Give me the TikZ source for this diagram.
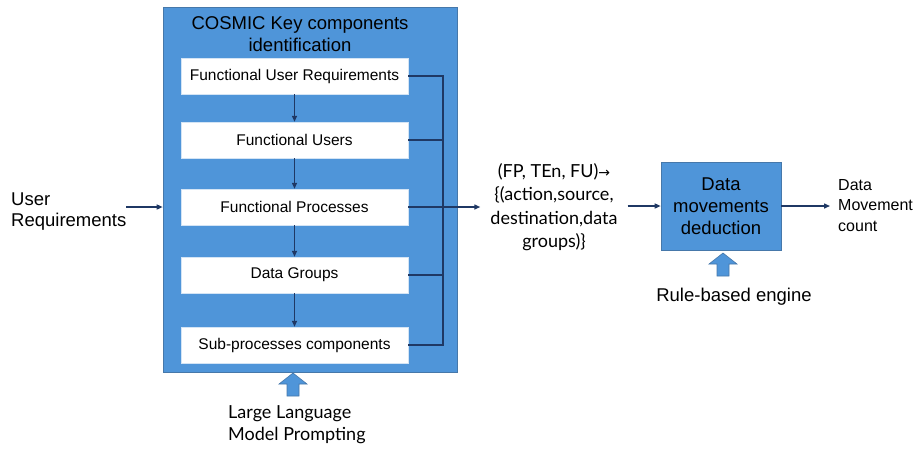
\documentclass[tikz,border=0pt]{standalone}
\usepackage{fontspec}
\setmainfont{Liberation Sans}
\newfontfamily\aptos{Lato}
\newfontfamily\symb{DejaVu Sans}
\usetikzlibrary{arrows.meta}
\definecolor{boxblue}{RGB}{79,149,217}
\definecolor{boxedge}{RGB}{70,120,170}
\definecolor{navy}{RGB}{31,56,100}

\tikzset{
  panel/.style={draw=boxedge, line width=0.6pt, fill=boxblue, inner sep=0pt},
  comp/.style={draw=boxblue!25, line width=0.4pt, fill=white, minimum width=227pt,
    minimum height=36pt, inner sep=0pt, font=\fontsize{15.5}{18}\selectfont},
  conn/.style={draw=navy, line width=1.4pt},
  arr/.style={conn, -{Triangle[length=6pt,width=5pt]}},
  downarr/.style={draw=navy, line width=1.3pt, -{Triangle[length=6pt,width=5pt]}},
  lbl/.style={inner sep=0pt, font=\fontsize{18.5}{21}\selectfont},
  blockarrow/.style={draw=boxedge, line width=0.6pt, fill=boxblue},
  uparrow/.pic={\filldraw[blockarrow] (-6,23) -- (-6,11) -- (-14,11) -- (0,0) -- (14,11) -- (6,11) -- (6,23) -- cycle;}
}

\begin{document}
\begin{tikzpicture}[x=1pt,y=-1pt]
\useasboundingbox (0,0) rectangle (918,448);

% COSMIC identification panel
\node[panel, minimum width=294pt, minimum height=365pt] (panel) at (310,189.5) {};
\node[lbl, align=center, font=\fontsize{18.5}{22}\selectfont] (title) at (300,34) {COSMIC Key components\\identification};

% component boxes
\node[comp] (fur) at (294.5,76) {Functional User Requirements};
\node[comp] (fu)  at (294.5,140) {Functional Users};
\node[comp] (fp)  at (294.5,207) {Functional Processes};
\node[comp] (dg)  at (294.5,275) {Data Groups};
\node[comp] (sp)  at (294.5,345) {Sub-processes components};

\draw[downarr] (fur) -- (fu);
\draw[downarr] (fu) -- (fp);
\draw[downarr] (fp) -- (dg);
\draw[downarr] (dg) -- (sp);

% collecting bus on the right
\coordinate (bustop) at (443,76);
\coordinate (busbot) at (443,345);
\draw[conn] (fur.east) -- (bustop) -- (busbot) -- (sp.east);
\draw[conn] (fu.east) -- (fu.east -| bustop);
\draw[conn] (dg.east) -- (dg.east -| bustop);

% input
\node[lbl, align=left, anchor=west, font=\fontsize{18.5}{20.5}\selectfont] (ur) at (11,211.5) {User\\Requirements};
\coordinate (urend) at (126,207);
\draw[arr] (urend) -- (urend -| panel.west);

% tuple description
\node[inner sep=0pt, align=center, font=\aptos\fontsize{18}{23.5}\selectfont] (tuple) at (554,207)
  {(FP, TEn, FU){\symb\fontsize{14}{14}\selectfont→}\\\{(action,source,\\destination,data\\groups)\}};
\draw[arr] (fp.east) -- ([xshift=-10pt]tuple.west);

% data movement deduction
\node[panel, minimum width=120pt, minimum height=88pt, align=center,
  font=\fontsize{18.5}{22}\selectfont] (dmd) at (721,206) {Data\\movements\\deduction};
\draw[arr] ([xshift=10pt]tuple.east |- dmd.west) -- (dmd.west);

\node[inner sep=0pt, align=left, anchor=west, font=\fontsize{16}{20.5}\selectfont] (count) at (838,205.5)
  {Data\\Movement\\count};
\draw[arr] (dmd.east) -- ([xshift=-8pt]count.west |- dmd.east);

% engines feeding the stages
\pic at (723,253) {uparrow};
\node[lbl] (rule) at (734,297) {Rule-based engine};

\pic at (293,373) {uparrow};
\node[inner sep=0pt, align=left, anchor=west, font=\aptos\fontsize{18}{22}\selectfont] (llm) at (228,425)
  {Large Language\\Model Prompting};
\end{tikzpicture}
\end{document}
